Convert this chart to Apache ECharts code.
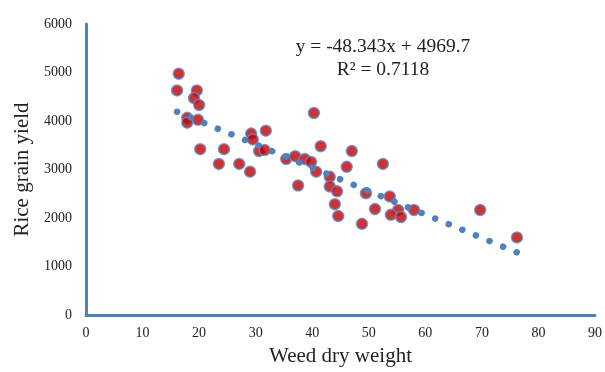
<!DOCTYPE html>
<html>
<head>
<meta charset="utf-8">
<script src="https://cdn.jsdelivr.net/npm/echarts@6/dist/echarts.min.js"></script>
<style>html,body{margin:0;padding:0;background:#fff;overflow:hidden}#c{width:605px;height:372px}</style>
</head>
<body>
<div id="c"></div>
<script>
const weedDry = [16.4,16.1,19.6,19.1,20.0,17.9,17.9,19.8,29.2,31.8,29.5,30.6,31.6,20.2,24.4,23.5,27.1,29.0,40.3,41.5,47.0,35.4,37.0,38.7,39.8,40.7,43.1,46.1,52.5,37.5,43.1,44.4,49.5,44.0,53.7,51.1,44.6,48.8,55.2,53.9,55.7,58.0,69.7,76.2];
const riceYield = [4975,4630,4630,4470,4330,4065,3965,4025,3740,3800,3620,3380,3400,3420,3420,3115,3115,2955,4165,3480,3380,3215,3275,3215,3155,2955,2850,3055,3115,2670,2650,2550,2510,2285,2445,2185,2040,1880,2165,2065,2020,2165,2165,1600];
const trendX = [16.1, 76.2];
const trendY = [4190, 1290];
const equationText = ['y = -48.343x + 4969.7', 'R² = 0.7118'];
const xTicks = {min:0, max:90, interval:10};
const yTicks = {min:0, max:6000, interval:1000};

const chart = echarts.init(document.getElementById('c'));
const font = '"Liberation Serif", "Times New Roman", serif';
chart.setOption({
  animation: false,
  grid: {left: 86, right: 10, top: 24, bottom: 53},
  xAxis: {
    type: 'value', min: xTicks.min, max: xTicks.max, interval: xTicks.interval,
    name: 'Weed dry weight', nameLocation: 'middle', nameGap: 31,
    nameTextStyle: {fontFamily: font, fontSize: 21, color: '#222'},
    axisLine: {show: true, lineStyle: {color: '#4f81bd', width: 3}},
    axisTick: {show: false}, splitLine: {show: false},
    axisLabel: {fontFamily: font, fontSize: 14, color: '#222', margin: 11}
  },
  yAxis: {
    type: 'value', min: yTicks.min, max: yTicks.max, interval: yTicks.interval,
    name: 'Rice grain yield', nameLocation: 'middle', nameGap: 46,
    nameTextStyle: {fontFamily: font, fontSize: 21, color: '#222'},
    axisLine: {show: true, lineStyle: {color: '#4f81bd', width: 3}},
    axisTick: {show: false}, splitLine: {show: false},
    axisLabel: {fontFamily: font, fontSize: 14, color: '#222', margin: 14, formatter: v => String(v)}
  },
  graphic: [{
    type: 'text', left: 383 - 100, top: 35, z: 100,
    style: {text: equationText.join('\n'), fontFamily: font, fontSize: 19.5, fill: '#222', textAlign: 'center', lineHeight: 23, width: 200, align: 'center'}
  }],
  series: [{
    type: 'scatter', z: 2,
    data: weedDry.map((x, i) => [x, riceYield[i]]),
    symbolSize: 11,
    itemStyle: {color: '#c00000', borderColor: '#5b8fd0', borderWidth: 1.5}
  }, {
    type: 'line', z: 3, symbol: 'none',
    data: trendX.map((x, i) => [x, trendY[i]]),
    lineStyle: {color: '#4f81bd', width: 6.5, type: [0.1, 14.6], cap: 'round'}
  }]
});
</script>
</body>
</html>
